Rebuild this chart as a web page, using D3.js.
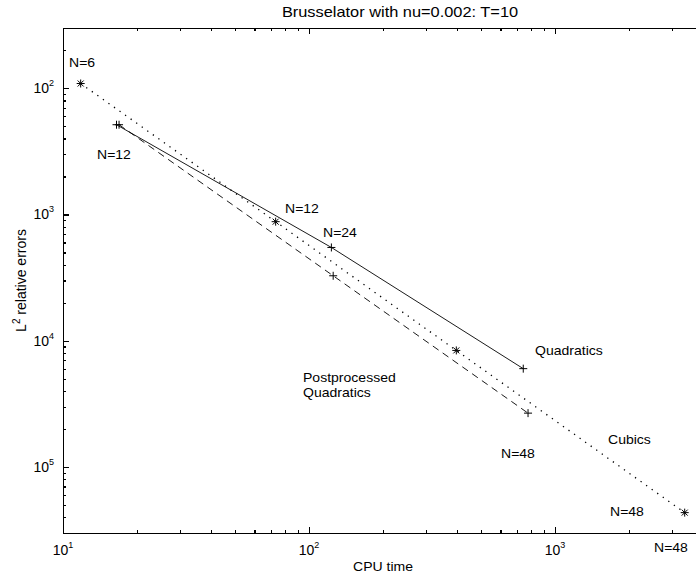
<!DOCTYPE html>
<html>
<head>
<meta charset="utf-8">
<script src="https://cdn.jsdelivr.net/npm/d3@7"></script>
<style>
  body { margin: 0; background: #fff; }
  svg { display: block; font-family: "Liberation Sans", Arial, sans-serif; }
  .axis path, .axis line { stroke: #000; stroke-width: 1.2; shape-rendering: crispEdges; }
</style>
</head>
<body>
<div id="chart"></div>
<script>
// Cubics (dotted, stars) N = 6, 12, 24, 48
const cubicTime = [11.8, 73.2, 397, 3367];
const cubicErr = [1.09e-2, 8.77e-4, 8.38e-5, 4.35e-6];

// Quadratics (solid, plus) N = 12, 24, 48
const quadTime = [16.5, 123.3, 743];
const quadErr = [5.14e-3, 5.48e-4, 6.01e-5];

// Postprocessed quadratics (dashed, plus) N = 12, 24, 48
const postTime = [16.9, 125.4, 777];
const postErr = [5.14e-3, 3.27e-4, 2.67e-5];

// tick values and the labels as printed
const xTickValues = [10, 100, 1000];
const xTickExps = ["1", "2", "3"];
const yTickValues = [1e-2, 1e-3, 1e-4, 1e-5];
const yTickExps = ["2", "3", "4", "5"];

const width = 696, height = 579;
const margin = {left: 63, top: 28};
const plotW = 738, plotH = 505;
const stretch = 1.17;

const svg = d3.select("#chart").append("svg")
    .attr("width", width)
    .attr("height", height);

const x = d3.scaleLog().domain([10, 1e4]).range([margin.left, margin.left + plotW]);
const y = d3.scaleLog().domain([3e-6, 3e-2]).range([margin.top + plotH, margin.top]);

// minor ticks for each decade
const minor = (lo, hi) => {
    const out = [];
    for (let e = Math.floor(Math.log10(lo)); e <= Math.ceil(Math.log10(hi)); e++) {
        for (let k = 2; k <= 9; k++) {
            const v = k * Math.pow(10, e);
            if (v >= lo && v <= hi) out.push(v);
        }
    }
    return out;
};
const xMinor = minor(10, 1e4);
const yMinor = minor(3e-6, 3e-2);

const bottom = margin.top + plotH;

function drawAxis(axisFn, scale, pos, transform) {
    svg.append("g").attr("class", "axis").attr("transform", transform)
        .call(axisFn(scale).tickValues(pos.major).tickSizeInner(-6).tickSizeOuter(0).tickFormat(""));
    svg.append("g").attr("class", "axis").attr("transform", transform)
        .call(axisFn(scale).tickValues(pos.minor).tickSizeInner(-3).tickSizeOuter(0).tickFormat(""));
}
drawAxis(d3.axisBottom, x, {major: xTickValues, minor: xMinor}, `translate(0,${bottom})`);
drawAxis(d3.axisTop, x, {major: xTickValues, minor: xMinor}, `translate(0,${margin.top})`);
drawAxis(d3.axisLeft, y, {major: yTickValues, minor: yMinor}, `translate(${margin.left},0)`);
svg.selectAll(".axis text").remove();

// tick labels with superscripts
const xl = svg.append("g").selectAll("text")
    .data(xTickValues)
    .join("text")
    .attr("x", d => x(d))
    .attr("y", bottom + 22)
    .attr("text-anchor", "middle")
    .style("font-size", "14px");
xl.append("tspan").text("10");
xl.append("tspan").attr("dy", -7).style("font-size", "9px").text((d, i) => xTickExps[i]);

const yl = svg.append("g").selectAll("text")
    .data(yTickValues)
    .join("text")
    .attr("x", margin.left - 9)
    .attr("y", d => y(d) + 5)
    .attr("text-anchor", "end")
    .style("font-size", "14px");
yl.append("tspan").text("10");
yl.append("tspan").attr("dy", -7).style("font-size", "9px").text((d, i) => yTickExps[i]);

// series lines
const line = d3.line().x(d => x(d[0])).y(d => y(d[1]));
const zip = (a, b) => a.map((v, i) => [v, b[i]]);

const series = [
    {pts: zip(quadTime, quadErr), dash: null, width: 0.9, marker: "plus"},
    {pts: zip(postTime, postErr), dash: "7,5", width: 0.9, marker: "plus"},
    {pts: zip(cubicTime, cubicErr), dash: "1.3,5.5", width: 1.3, marker: "star"}
];

const markerPath = {
    plus: "M-4,0H4M0,-4V4",
    star: "M-4,0H4M0,-4V4M-3,-3L3,3M-3,3L3,-3"
};

series.forEach(s => {
    svg.append("path")
        .attr("d", line(s.pts))
        .attr("fill", "none")
        .attr("stroke", "#000")
        .attr("stroke-width", s.width)
        .attr("stroke-dasharray", s.dash);
    svg.append("g").selectAll("path")
        .data(s.pts)
        .join("path")
        .attr("transform", d => `translate(${x(d[0])},${y(d[1])})`)
        .attr("d", markerPath[s.marker])
        .attr("fill", "none")
        .attr("stroke", "#000")
        .attr("stroke-width", 1);
});

// text helper: slightly wide glyphs like the original
function label(str, px, py, anchor, size) {
    return svg.append("text")
        .attr("transform", `translate(${px},${py}) scale(${stretch},1)`)
        .attr("text-anchor", anchor || "start")
        .style("font-size", (size || 12) + "px")
        .text(str);
}

label("Brusselator with nu=0.002: T=10", 400, 17, "middle", 14);
label("CPU time", 383, 571, "middle");

const notes = [
    ["N=6", 69, 67],
    ["N=12", 97, 159],
    ["N=12", 285, 213],
    ["N=24", 323, 237],
    ["Postprocessed", 303, 382],
    ["Quadratics", 303, 397],
    ["Quadratics", 535, 355],
    ["N=48", 501, 458],
    ["Cubics", 608, 444],
    ["N=48", 610, 516],
    ["N=48", 654, 552]
];
notes.forEach(n => label(n[0], n[1], n[2]));

// y axis title
const yt = svg.append("text")
    .attr("transform", `translate(26,${margin.top + plotH / 2}) rotate(-90)`)
    .attr("text-anchor", "middle")
    .style("font-size", "14px");
yt.append("tspan").text("L");
yt.append("tspan").attr("dy", -6).style("font-size", "10px").text("2");
yt.append("tspan").attr("dy", 6).text(" relative errors");
</script>
</body>
</html>
